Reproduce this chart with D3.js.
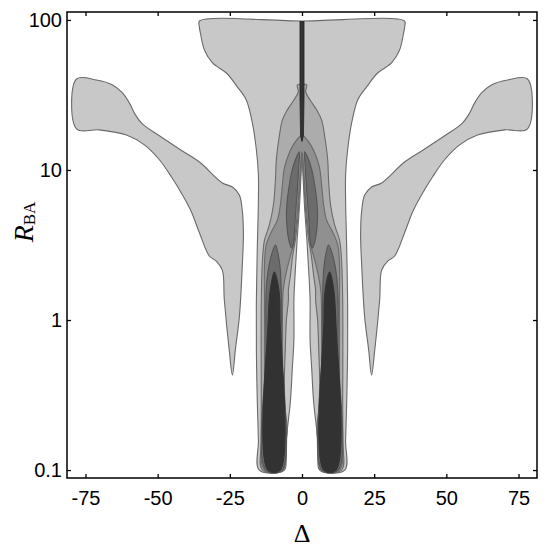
<!DOCTYPE html>
<html>
<head>
<meta charset="utf-8">
<script src="https://cdnjs.cloudflare.com/ajax/libs/d3/7.8.5/d3.min.js"></script>
<style>
body { margin: 0; background: #fff; }
</style>
</head>
<body>
<div id="chart"></div>
<script>
var svgWidth = 549;
var svgHeight = 548;

var margin = { top: 12, right: 12, bottom: 70, left: 67 };
var width = svgWidth - margin.left - margin.right;
var height = svgHeight - margin.top - margin.bottom;

var xTicks = [-75, -50, -25, 0, 25, 50, 75];
var yTicks = [0.1, 1, 10, 100];

// contour fills, lightest to darkest
var levelFills = ["#c8c8c8", "#acacac", "#909090", "#6c6c6c", "#323232"];

// outer lobe on the negative side [delta, R]
var sideLobe = [[-78.1, 40.4], [-71.2, 39.8], [-65.6, 36.9], [-62.2, 32.6], [-59.8, 28.0],
    [-57.7, 23.3], [-55.3, 20.3], [-49.4, 16.9], [-42.5, 13.8], [-35.5, 11.3], [-27.6, 8.2],
    [-24.1, 7.7], [-21.7, 6.8], [-20.7, 5.4], [-20.3, 3.8], [-20.7, 2.26], [-21.7, 1.05],
    [-23.1, 0.63], [-24.1, 0.43], [-25.2, 0.63], [-26.9, 1.36], [-27.6, 2.15], [-29.7, 2.47],
    [-32.1, 2.67], [-35.5, 3.8], [-38.3, 5.25], [-41.4, 6.81], [-45.2, 8.97], [-49.4, 11.7],
    [-54.6, 14.7], [-60.8, 17.1], [-70.2, 18.5], [-78.1, 18.8]];

// central level 1, left half (from top centre round to the slit apex)
var level1Half = [[0, 98.4], [-35.5, 98.4], [-35.6, 91], [-35.2, 81.9], [-33.8, 63.1], [-31.0, 51.7],
    [-26.2, 44.3], [-22.4, 35.8], [-19.3, 29.3], [-17.2, 20.6], [-15.8, 13.6], [-15.1, 9.26],
    [-15.1, 6.31], [-15.5, 2.93], [-15.8, 1.36], [-15.8, 0.63], [-15.5, 0.29], [-15.1, 0.158],
    [-14.8, 0.1], [-6.1, 0.1], [-5.8, 0.136], [-5.1, 0.185], [-4.0, 0.29], [-3.4, 0.46],
    [-2.8, 0.74], [-2.8, 1.36], [-2.5, 1.85], [-2.1, 2.51], [-1.7, 3.41], [-1.2, 4.64],
    [-0.75, 6.31], [-0.35, 9.26], [0, 12.4]];

var level2Half = [[0, 37.4], [-1.6, 36.9], [-1.3, 33.0], [-3.0, 28.9], [-5.1, 25.1],
    [-6.8, 21.5], [-7.9, 16.6], [-8.9, 11.7], [-9.2, 8.58], [-9.9, 5.84], [-11.3, 4.30],
    [-13.0, 3.41], [-13.7, 2.51], [-14.1, 1.36], [-14.1, 0.29], [-14.1, 0.158], [-13.7, 0.1],
    [-6.5, 0.1], [-5.4, 0.158], [-5.1, 0.19], [-5.8, 0.25], [-6.1, 0.40], [-5.8, 0.63],
    [-5.4, 1.0], [-4.7, 1.36], [-4.7, 1.58], [-4.0, 2.0], [-3.2, 2.71], [-2.3, 3.41],
    [-1.5, 4.64], [-1.0, 6.31], [-0.5, 9.26], [0, 13.2]];

var level3Half = [[0, 17.1], [-1.3, 16.3], [-3.0, 14.7], [-4.7, 12.6], [-6.1, 10.3],
    [-6.8, 7.94], [-7.5, 5.84], [-8.5, 4.64], [-10.6, 3.86], [-12.4, 3.16], [-13.0, 2.33],
    [-13.0, 1.36], [-13.0, 0.29], [-13.0, 0.1], [-6.8, 0.1], [-6.5, 0.185], [-6.8, 0.40],
    [-6.8, 0.86], [-6.5, 1.58], [-5.4, 2.09], [-4.2, 2.59], [-3.0, 3.16], [-2.0, 4.30],
    [-1.3, 6.31], [-0.7, 9.26], [0, 13.2]];

var level4Lobe = [[-0.9, 13.2], [-2.3, 11.7], [-3.4, 10.0], [-4.4, 7.94], [-5.1, 6.31],
    [-5.4, 5.01], [-5.1, 3.98], [-4.4, 3.31], [-3.6, 3.02], [-2.9, 3.31], [-2.5, 4.30],
    [-2.0, 5.84], [-1.5, 7.94], [-1.1, 10.8]];

var level4Column = [[-9.2, 3.16], [-10.6, 2.71], [-11.7, 2.15], [-12.4, 1.58], [-12.5, 0.63],
    [-12.5, 0.1], [-7.0, 0.1], [-7.0, 0.63], [-7.2, 1.58], [-7.5, 2.15], [-8.2, 2.71]];

var level5Core = [[-9.6, 2.09], [-11.0, 1.58], [-11.7, 1.0], [-11.8, 0.1], [-7.6, 0.1],
    [-7.6, 1.0], [-8.0, 1.58]];

var centreLine = [[-0.7, 98.4], [-0.7, 30], [-0.5, 17], [0, 15.5], [0.5, 17], [0.7, 30], [0.7, 98.4]];

var svg = d3.select("#chart")
    .append("svg")
    .attr("width", svgWidth)
    .attr("height", svgHeight);

var chartGroup = svg.append("g")
    .attr("transform", `translate(${margin.left}, ${margin.top})`);

var xLinearScale = d3.scaleLinear()
    .domain([-81.4, 81.4])
    .range([0, width]);

var yLogScale = d3.scaleLog()
    .domain([Math.pow(10, -1.053), Math.pow(10, 2.053)])
    .range([height, 0]);

var contourLine = d3.line()
    .x(d => xLinearScale(d[0]))
    .y(d => yLogScale(d[1]))
    .curve(d3.curveCatmullRomClosed.alpha(0.5));

function mirror(pts) {
    return pts.map(p => [-p[0], p[1]]);
}

function joinHalves(half) {
    var right = mirror(half.slice().reverse()).filter(p => p[0] !== 0);
    return half.concat(right);
}

function drawShape(pts, fill, stroke) {
    chartGroup.append("path")
        .attr("d", contourLine(pts))
        .attr("fill", fill)
        .attr("stroke", stroke || "#6a6a6a")
        .attr("stroke-width", 1.1);
}

drawShape(sideLobe, levelFills[0]);
drawShape(mirror(sideLobe), levelFills[0]);
drawShape(joinHalves(level1Half), levelFills[0]);
drawShape(joinHalves(level2Half), levelFills[1]);
drawShape(joinHalves(level3Half), levelFills[2]);
[level4Lobe, level4Column].forEach(function (shape) {
    drawShape(shape, levelFills[3], "#555");
    drawShape(mirror(shape), levelFills[3], "#555");
});
drawShape(level5Core, levelFills[4], "#333");
drawShape(mirror(level5Core), levelFills[4], "#333");

chartGroup.append("path")
    .attr("d", d3.line().x(d => xLinearScale(d[0])).y(d => yLogScale(d[1]))(centreLine))
    .attr("fill", "#333")
    .attr("stroke", "#222")
    .attr("stroke-width", 0.8);

// axes, ticks pointing inward on all four sides
var fontFamily = "'Liberation Sans', Arial, Helvetica, sans-serif";

var bottomAxis = d3.axisBottom(xLinearScale).tickValues(xTicks)
    .tickSizeInner(-4).tickSizeOuter(0).tickPadding(13).tickFormat(d => String(d));
var topAxis = d3.axisTop(xLinearScale).tickValues(xTicks)
    .tickSizeInner(-4).tickSizeOuter(0).tickFormat("");
var leftAxis = d3.axisLeft(yLogScale).tickValues(yTicks)
    .tickSizeInner(-4).tickSizeOuter(0).tickPadding(5).tickFormat(d => String(d));
var rightAxis = d3.axisRight(yLogScale).tickValues(yTicks)
    .tickSizeInner(-4).tickSizeOuter(0).tickFormat("");

var xAxis = chartGroup.append("g")
    .attr("transform", `translate(0, ${height})`)
    .call(bottomAxis);
chartGroup.append("g").call(topAxis);
var yAxis = chartGroup.append("g").call(leftAxis);
chartGroup.append("g").attr("transform", `translate(${width}, 0)`).call(rightAxis);

chartGroup.selectAll(".domain").remove();
chartGroup.selectAll(".tick line").attr("stroke", "#000").attr("stroke-width", 1.3);
chartGroup.selectAll(".tick text")
    .attr("fill", "#000")
    .style("font-family", fontFamily)
    .style("font-size", "20px");

chartGroup.append("rect")
    .attr("width", width)
    .attr("height", height)
    .attr("fill", "none")
    .attr("stroke", "#000")
    .attr("stroke-width", 1.5);

svg.append("text")
    .attr("x", margin.left + xLinearScale(0))
    .attr("y", 542)
    .attr("text-anchor", "middle")
    .style("font-family", "'Liberation Serif', 'Times New Roman', serif")
    .style("font-size", "26px")
    .text("\u0394");

var yLabel = svg.append("text")
    .attr("transform", "translate(33, 222) rotate(-90)")
    .attr("text-anchor", "middle")
    .style("font-family", "'Liberation Serif', 'Times New Roman', serif");
yLabel.append("tspan").style("font-style", "italic").style("font-size", "28px").text("R");
yLabel.append("tspan").style("font-size", "17px").attr("dy", 2).text("BA");
</script>
</body>
</html>
